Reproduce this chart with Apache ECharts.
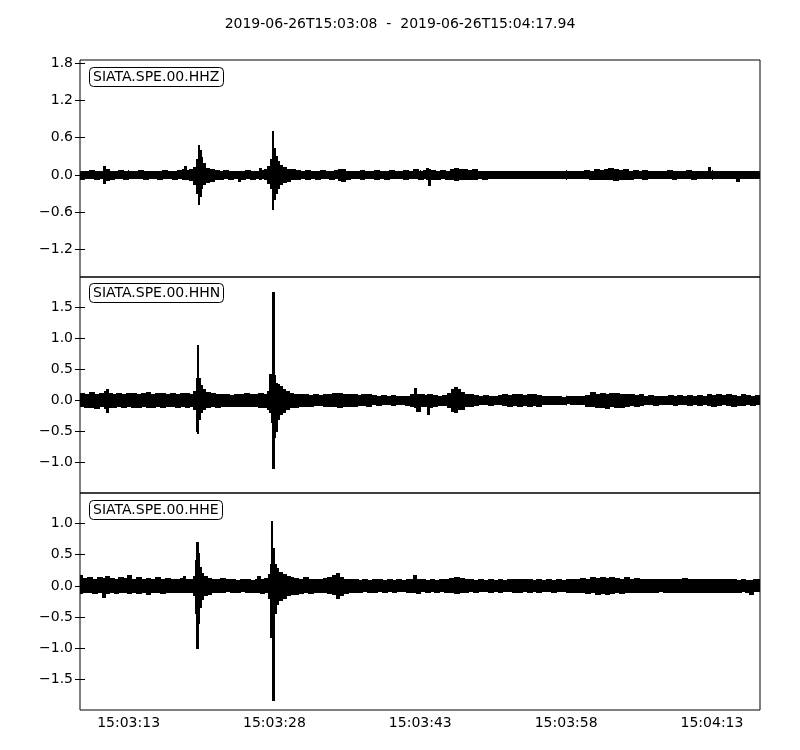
<!DOCTYPE html>
<html>
<head>
<meta charset="utf-8">
<script src="https://cdn.jsdelivr.net/npm/echarts@6/dist/echarts.min.js"></script>
<style>html,body{margin:0;padding:0;background:#fff;}#c{width:800px;height:750px;}</style>
</head>
<body>
<div id="c"></div>
<script>
// ---- data (seconds after 2019-06-26T15:03:08, envelope max / min per bin) ----
const chartTitle = '2019-06-26T15:03:08  -  2019-06-26T15:04:17.94';
const traceNames = ['SIATA.SPE.00.HHZ', 'SIATA.SPE.00.HHN', 'SIATA.SPE.00.HHE'];
const timeMax = 69.94;
const timeTicks = [5, 20, 35, 50, 65];
const timeTickLabels = ['15:03:13', '15:03:28', '15:03:43', '15:03:58', '15:04:13'];

const hhzTicks = [-1.2, -0.6, 0.0, 0.6, 1.2, 1.8];
const hhnTicks = [-1.0, -0.5, 0.0, 0.5, 1.0, 1.5];
const hheTicks = [-1.5, -1.0, -0.5, 0.0, 0.5, 1.0];
const hhzRange = [-1.64, 1.848];
const hhnRange = [-1.49, 1.99];
const hheRange = [-1.99, 1.49];

const hhzT = [0,0.5,1,1.5,2,2.45,2.65,3,3.5,4,4.5,5,5.5,6,6.5,7,7.5,8,8.5,9,9.5,10,10.5,10.75,10.95,11.3,11.7,12.0,12.15,12.3,12.45,12.65,12.9,13.3,13.8,14.3,14.8,15.3,15.8,16.3,16.5,17,17.5,18,18.5,18.7,19,19.3,19.6,19.75,19.88,20.0,20.15,20.3,20.5,20.8,21.2,21.7,22.2,22.7,23.2,23.7,24.2,24.7,25.2,25.7,26.2,26.6,26.9,27.3,27.8,28.3,28.8,29.3,29.8,30.3,30.8,31.3,31.8,32.3,32.8,33.3,33.8,34.3,34.8,35.3,35.65,35.85,36.1,36.6,37.1,37.6,38.1,38.5,38.9,39.4,39.9,40.4,40.9,41.4,41.9,42.4,42.9,43.4,43.9,44.4,44.9,45.4,45.9,46.4,46.9,47.4,47.9,48.4,48.9,49.4,49.9,50.4,50.9,51.4,51.9,52.4,52.9,53.4,53.9,54.4,54.9,55.4,55.9,56.4,56.9,57.4,57.9,58.4,58.9,59.4,59.9,60.4,60.9,61.4,61.9,62.4,62.9,63.4,63.9,64.4,64.6,64.8,65.3,65.8,66.3,66.8,67.3,67.5,67.8,68.3,68.8,69.3];
const hhzMax = [.06,.05,.07,.05,.06,.13,.08,.06,.05,.07,.05,.06,.05,.07,.05,.06,.05,.06,.07,.05,.06,.07,.08,.13,.07,.08,.12,.25,.48,.40,.28,.18,.11,.09,.07,.06,.07,.05,.06,.06,.05,.07,.06,.05,.11,.07,.08,.13,.25,.70,.36,.42,.30,.22,.16,.12,.09,.08,.07,.06,.07,.05,.06,.07,.05,.06,.07,.09,.08,.06,.05,.06,.07,.05,.06,.07,.06,.05,.07,.06,.05,.07,.06,.08,.06,.07,.11,.08,.07,.06,.07,.06,.09,.11,.09,.08,.07,.08,.06,.06,.05,.06,.05,.06,.05,.06,.05,.06,.05,.05,.06,.05,.06,.05,.06,.05,.06,.05,.06,.05,.07,.06,.09,.07,.08,.10,.08,.07,.08,.06,.07,.06,.07,.06,.05,.06,.05,.07,.06,.05,.06,.07,.06,.05,.06,.06,.12,.06,.05,.06,.05,.06,.05,.05,.06,.05,.06,.05];
const hhzMin = [-.07,-.06,-.06,-.08,-.06,-.14,-.09,-.07,-.06,-.05,-.07,-.06,-.05,-.06,-.07,-.05,-.06,-.07,-.06,-.05,-.07,-.06,-.07,-.08,-.07,-.09,-.15,-.30,-.47,-.35,-.22,-.16,-.12,-.10,-.08,-.07,-.06,-.07,-.06,-.10,-.07,-.06,-.07,-.06,-.07,-.06,-.08,-.13,-.22,-.55,-.35,-.40,-.30,-.22,-.16,-.12,-.10,-.08,-.07,-.06,-.07,-.06,-.07,-.06,-.05,-.07,-.06,-.09,-.10,-.07,-.05,-.06,-.07,-.06,-.05,-.07,-.06,-.07,-.06,-.05,-.06,-.07,-.06,-.06,-.07,-.06,-.08,-.17,-.08,-.07,-.06,-.07,-.08,-.09,-.08,-.07,-.08,-.07,-.06,-.07,-.06,-.05,-.06,-.06,-.05,-.06,-.05,-.06,-.05,-.06,-.05,-.05,-.06,-.05,-.06,-.05,-.06,-.05,-.06,-.06,-.06,-.07,-.07,-.08,-.07,-.08,-.09,-.07,-.07,-.07,-.06,-.06,-.07,-.06,-.05,-.06,-.06,-.06,-.07,-.05,-.06,-.06,-.07,-.05,-.06,-.05,-.06,-.06,-.06,-.05,-.06,-.06,-.06,-.10,-.06,-.05,-.06,-.06];

const hhnT = [0,0.5,1,1.5,2,2.5,2.7,2.9,3.3,3.8,4.3,4.8,5.3,5.8,6.3,6.8,7.3,7.8,8.3,8.8,9.3,9.8,10.3,10.8,11.3,11.7,11.95,12.1,12.22,12.4,12.65,12.95,13.4,13.9,14.4,14.9,15.4,15.9,16.4,16.9,17.4,17.9,18.4,18.9,19.3,19.5,19.7,19.84,19.98,20.12,20.3,20.5,20.8,21.1,21.5,22,22.5,23,23.5,24,24.5,25,25.5,26,26.5,27,27.5,28,28.5,29,29.5,30,30.5,31,31.5,32,32.5,33,33.5,34,34.45,34.65,35,35.4,35.7,35.9,36.3,36.8,37.3,37.8,38.2,38.5,38.8,39.1,39.5,40,40.5,41,41.5,42,42.5,43,43.5,44,44.5,45,45.5,46,46.5,47,47.5,48,48.5,49,49.5,50,50.5,51,51.5,52,52.5,53,53.5,54,54.5,55,55.5,56,56.5,57,57.5,58,58.5,59,59.5,60,60.5,61,61.5,62,62.5,63,63.5,64,64.5,65,65.5,66,66.5,67,67.5,68,68.5,69,69.5];
const hhnMax = [.12,.10,.13,.10,.12,.14,.18,.11,.10,.12,.10,.11,.12,.10,.11,.13,.10,.11,.12,.10,.11,.10,.12,.11,.10,.14,.35,.89,.35,.25,.17,.13,.11,.10,.09,.10,.08,.10,.09,.11,.10,.09,.11,.10,.15,.42,.30,1.74,.40,.28,.26,.22,.18,.15,.12,.10,.09,.10,.08,.09,.08,.09,.10,.11,.12,.10,.09,.10,.08,.09,.10,.08,.07,.08,.07,.08,.07,.06,.07,.09,.19,.10,.09,.08,.10,.09,.08,.07,.08,.11,.17,.21,.18,.13,.10,.09,.08,.07,.08,.07,.06,.08,.09,.08,.09,.10,.08,.09,.10,.08,.07,.06,.07,.06,.05,.06,.07,.06,.07,.08,.13,.10,.12,.10,.11,.12,.10,.09,.10,.08,.09,.07,.08,.07,.06,.07,.08,.07,.08,.07,.08,.07,.08,.07,.10,.08,.09,.08,.09,.08,.07,.09,.08,.07,.08];
const hhnMin = [-.10,-.12,-.11,-.13,-.10,-.13,-.20,-.12,-.11,-.10,-.12,-.10,-.11,-.12,-.10,-.11,-.12,-.10,-.11,-.09,-.10,-.12,-.10,-.11,-.10,-.15,-.50,-.53,-.30,-.20,-.15,-.12,-.10,-.11,-.10,-.09,-.10,-.09,-.10,-.09,-.10,-.10,-.11,-.12,-.14,-.20,-.35,-1.10,-.60,-.50,-.30,-.22,-.20,-.14,-.12,-.11,-.10,-.09,-.09,-.08,-.08,-.09,-.09,-.10,-.11,-.10,-.10,-.09,-.08,-.08,-.09,-.07,-.08,-.07,-.07,-.08,-.06,-.07,-.08,-.10,-.12,-.18,-.10,-.09,-.23,-.11,-.09,-.08,-.08,-.12,-.18,-.20,-.15,-.14,-.10,-.09,-.08,-.07,-.07,-.08,-.07,-.07,-.08,-.09,-.08,-.09,-.08,-.09,-.08,-.09,-.07,-.06,-.06,-.07,-.06,-.05,-.06,-.07,-.06,-.09,-.10,-.12,-.11,-.13,-.10,-.11,-.12,-.10,-.08,-.09,-.08,-.07,-.07,-.08,-.07,-.06,-.07,-.08,-.07,-.07,-.08,-.07,-.08,-.07,-.08,-.09,-.08,-.07,-.08,-.09,-.08,-.08,-.07,-.08,-.07];

const hheT = [0,0.3,0.8,1.3,1.8,2.3,2.6,3.0,3.5,4.0,4.5,4.9,5.3,5.8,6.3,6.8,7.3,7.8,8.3,8.8,9.3,9.8,10.3,10.6,10.9,11.3,11.65,11.85,12.0,12.15,12.3,12.5,12.75,13.1,13.5,14.0,14.5,15.0,15.5,16.0,16.5,17.0,17.5,18.0,18.3,18.6,19.0,19.35,19.55,19.72,19.85,20.0,20.2,20.45,20.8,21.2,21.6,22.0,22.5,23.0,23.5,24.0,24.5,25.0,25.5,26.0,26.35,26.7,27.1,27.6,28.1,28.6,29.1,29.6,30.1,30.6,31.1,31.6,32.1,32.6,33.1,33.6,34.0,34.35,34.6,35.0,35.5,36.0,36.5,37.0,37.5,38.0,38.5,39.0,39.5,40.0,40.5,41.0,41.5,42.0,42.5,43.0,43.5,44.0,44.5,45.0,45.5,46.0,46.5,47.0,47.5,48.0,48.5,49.0,49.5,50.0,50.5,51.0,51.5,52.0,52.5,53.0,53.5,54.0,54.5,55.0,55.5,56.0,56.5,57.0,57.5,58.0,58.5,59.0,59.5,60.0,60.5,61.0,61.5,62.0,62.5,63.0,63.5,64.0,64.5,65.0,65.5,66.0,66.5,67.0,67.5,68.0,68.5,68.9,69.3];
const hheMax = [.16,.12,.13,.11,.14,.12,.15,.12,.10,.13,.12,.16,.11,.13,.10,.12,.11,.13,.10,.12,.11,.10,.12,.15,.10,.11,.15,.40,.69,.52,.30,.20,.15,.12,.11,.10,.12,.10,.11,.09,.11,.10,.09,.11,.15,.11,.12,.18,.35,1.03,.60,.35,.28,.22,.18,.15,.14,.12,.11,.13,.10,.11,.10,.12,.14,.16,.20,.14,.11,.10,.11,.09,.10,.09,.11,.10,.09,.10,.09,.10,.09,.10,.11,.17,.11,.10,.09,.10,.09,.10,.11,.12,.14,.12,.10,.11,.09,.10,.09,.10,.09,.10,.09,.10,.11,.10,.11,.10,.09,.10,.09,.10,.09,.10,.09,.10,.11,.10,.12,.11,.13,.12,.14,.12,.13,.12,.11,.13,.11,.12,.10,.11,.10,.11,.10,.11,.10,.11,.10,.12,.11,.10,.11,.10,.11,.10,.11,.10,.11,.10,.09,.10,.09,.08,.10];
const hheMin = [-.12,-.10,-.11,-.12,-.10,-.18,-.12,-.11,-.12,-.10,-.11,-.12,-.10,-.12,-.11,-.13,-.10,-.11,-.12,-.10,-.11,-.10,-.11,-.10,-.11,-.10,-.16,-.45,-1.00,-.60,-.35,-.22,-.16,-.13,-.10,-.11,-.10,-.09,-.11,-.10,-.09,-.10,-.11,-.10,-.10,-.12,-.10,-.20,-.83,-.50,-1.83,-.45,-.30,-.24,-.20,-.16,-.13,-.14,-.12,-.11,-.12,-.10,-.11,-.10,-.12,-.14,-.20,-.15,-.12,-.11,-.10,-.10,-.09,-.10,-.10,-.09,-.10,-.09,-.10,-.09,-.09,-.10,-.10,-.11,-.12,-.09,-.10,-.09,-.10,-.09,-.10,-.11,-.12,-.11,-.10,-.09,-.10,-.09,-.09,-.10,-.09,-.10,-.09,-.09,-.10,-.10,-.09,-.10,-.09,-.10,-.09,-.09,-.10,-.09,-.09,-.10,-.10,-.11,-.10,-.12,-.11,-.13,-.12,-.13,-.12,-.11,-.12,-.11,-.10,-.11,-.10,-.10,-.11,-.10,-.09,-.10,-.10,-.10,-.11,-.10,-.11,-.10,-.10,-.11,-.10,-.10,-.10,-.11,-.10,-.10,-.10,-.09,-.10,-.13,-.09];

// ---- chart ----
const FONT = 'DejaVu Sans';
const FS = 14;
const grids = [
  {left: 80, top: 60, width: 680, height: 217},
  {left: 80, top: 277, width: 680, height: 216},
  {left: 80, top: 493, width: 680, height: 217}
];
const traces = [
  {t: hhzT, hi: hhzMax, lo: hhzMin, ticks: hhzTicks, range: hhzRange},
  {t: hhnT, hi: hhnMax, lo: hhnMin, ticks: hhnTicks, range: hhnRange},
  {t: hheT, hi: hheMax, lo: hheMin, ticks: hheTicks, range: hheRange}
];
function fmtY(v) {
  const s = Math.abs(v) < 1e-9 ? '0.0' : v.toFixed(1);
  return s.replace('-', '\u2212');
}
function bins(tr) {
  return tr.t.map((v, i) => [v, i < tr.t.length - 1 ? tr.t[i + 1] : timeMax, tr.lo[i], tr.hi[i]]);
}
const xAxes = [], yAxes = [], series = [], titles = [];
titles.push({text: chartTitle, left: 'center', top: 12, textStyle: {fontFamily: FONT, fontSize: FS, fontWeight: 'normal', color: '#000'}});
const boxTops = [67, 283, 500];
traces.forEach((tr, i) => {
  const tickCommon = {show: true, inside: true, length: 5, lineStyle: {color: '#000', width: 1}};
  xAxes.push({
    type: 'value', gridIndex: i, min: 0, max: timeMax, position: 'bottom',
    axisLine: {show: false}, splitLine: {show: false},
    axisTick: Object.assign({customValues: timeTicks}, tickCommon),
    axisLabel: {show: i === 2, customValues: timeTicks, margin: 6, color: '#000', fontFamily: FONT, fontSize: FS,
      formatter: v => { const k = timeTicks.findIndex(x => Math.abs(x - v) < 1e-6); return k >= 0 ? timeTickLabels[k] : ''; }}
  });
  xAxes.push({
    type: 'value', gridIndex: i, min: 0, max: timeMax, position: 'top',
    axisLine: {show: false}, splitLine: {show: false},
    axisTick: Object.assign({customValues: timeTicks}, tickCommon),
    axisLabel: {show: false}
  });
  yAxes.push({
    type: 'value', gridIndex: i, min: tr.range[0], max: tr.range[1], position: 'left',
    axisLine: {show: false}, splitLine: {show: false},
    axisTick: Object.assign({customValues: tr.ticks}, tickCommon),
    axisLabel: {show: true, customValues: tr.ticks, margin: 7, color: '#000', fontFamily: FONT, fontSize: FS, formatter: fmtY}
  });
  yAxes.push({
    type: 'value', gridIndex: i, min: tr.range[0], max: tr.range[1], position: 'right',
    axisLine: {show: false}, splitLine: {show: false},
    axisTick: Object.assign({customValues: tr.ticks}, tickCommon),
    axisLabel: {show: false}
  });
  series.push({
    type: 'custom', xAxisIndex: 2 * i, yAxisIndex: 2 * i, clip: true, silent: true, animation: false,
    encode: {x: [0, 1], y: [2, 3]},
    data: bins(tr),
    renderItem: (params, api) => {
      const a = api.coord([api.value(0), api.value(3)]);
      const b = api.coord([api.value(1), api.value(2)]);
      const x0 = Math.floor(a[0]);
      const x1 = Math.max(Math.ceil(b[0]), x0 + 1);
      const y0 = Math.floor(a[1]);
      const y1 = Math.ceil(b[1]);
      return {type: 'rect', shape: {x: x0, y: y0, width: x1 - x0, height: y1 - y0},
        style: {fill: '#000', stroke: null}};
    }
  });
  titles.push({text: traceNames[i], left: 89, top: boxTops[i], padding: [3, 4, 3, 4],
    borderColor: '#000', borderWidth: 1, borderRadius: 4, backgroundColor: '#fff',
    textStyle: {fontFamily: FONT, fontSize: FS, fontWeight: 'normal', color: '#000'}});
});
const chart = echarts.init(document.getElementById('c'), null, {renderer: 'canvas'});
chart.setOption({
  backgroundColor: '#fff',
  animation: false,
  title: titles,
  grid: grids.map(g => Object.assign({show: true, borderColor: '#000', borderWidth: 1, backgroundColor: 'transparent', containLabel: false}, g)),
  xAxis: xAxes,
  yAxis: yAxes,
  series: series
});
</script>
</body>
</html>
